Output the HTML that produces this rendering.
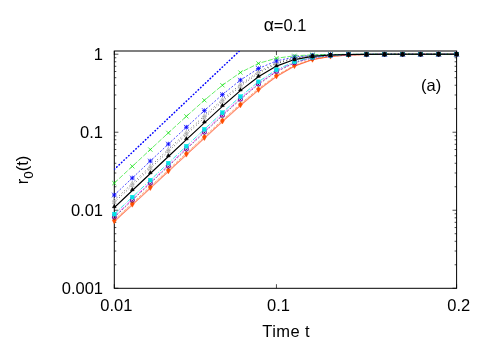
<!DOCTYPE html>
<html><head><meta charset="utf-8"><title>chart</title>
<style>html,body{margin:0;padding:0;background:#fff}svg{display:block}#w{will-change:transform;width:491px;height:343px;overflow:hidden}</style>
</head><body>
<div id="w"><svg width="491" height="343" viewBox="0 0 491 343">
<rect width="491" height="343" fill="#fff"/>
<defs><clipPath id="c"><rect x="114.3" y="51.0" width="342.3" height="237.3"/></clipPath></defs>
<rect x="114.3" y="51.0" width="342.3" height="237.3" fill="none" stroke="#000" stroke-width="1"/>
<path d="M114.3 288.26h4.1M456.6 288.26h-4.1M114.3 264.77h2.0M456.6 264.77h-2.0M114.3 251.03h2.0M456.6 251.03h-2.0M114.3 241.29h2.0M456.6 241.29h-2.0M114.3 233.73h2.0M456.6 233.73h-2.0M114.3 227.55h2.0M456.6 227.55h-2.0M114.3 222.33h2.0M456.6 222.33h-2.0M114.3 217.8h2.0M456.6 217.8h-2.0M114.3 213.81h2.0M456.6 213.81h-2.0M114.3 210.24h4.1M456.6 210.24h-4.1M114.3 186.75h2.0M456.6 186.75h-2.0M114.3 173.01h2.0M456.6 173.01h-2.0M114.3 163.27h2.0M456.6 163.27h-2.0M114.3 155.71h2.0M456.6 155.71h-2.0M114.3 149.53h2.0M456.6 149.53h-2.0M114.3 144.31h2.0M456.6 144.31h-2.0M114.3 139.78h2.0M456.6 139.78h-2.0M114.3 135.79h2.0M456.6 135.79h-2.0M114.3 132.22h4.1M456.6 132.22h-4.1M114.3 108.73h2.0M456.6 108.73h-2.0M114.3 94.99h2.0M456.6 94.99h-2.0M114.3 85.25h2.0M456.6 85.25h-2.0M114.3 77.69h2.0M456.6 77.69h-2.0M114.3 71.51h2.0M456.6 71.51h-2.0M114.3 66.29h2.0M456.6 66.29h-2.0M114.3 61.76h2.0M456.6 61.76h-2.0M114.3 57.77h2.0M456.6 57.77h-2.0M114.3 54.2h4.1M456.6 54.2h-4.1M114.3 288.3v-4.1M114.3 51.0v4.1M276.44 288.3v-4.1M276.44 51.0v4.1M456.6 288.3v-4.1M456.6 51.0v4.1" stroke="#000" stroke-width="0.7" fill="none"/>
<g clip-path="url(#c)" fill="none" stroke-linejoin="round">
<path d="M114.3 169.4 L239.4 51" stroke="#0000ff" stroke-width="1.5" stroke-linecap="round" stroke-dasharray="0.5 2.8"/>
<path d="M114.3 221.94 L132.32 205.24 L150.33 188.55 L168.35 171.86 L186.36 155.18 L204.38 138.56 L222.39 122.05 L240.41 105.86 L258.43 90.46 L276.44 76.81 L294.46 66.32 L312.47 59.78 L330.49 56.5 L348.51 55.1 L366.52 54.54 L384.54 54.33 L402.55 54.25 L420.57 54.22 L438.58 54.21 L456.6 54.2" stroke="#ff2000" stroke-width="0.45"/>
<path d="M114.3 221.18 L132.32 204.49 L150.33 187.79 L168.35 171.1 L186.36 154.43 L204.38 137.81 L222.39 121.31 L240.41 105.14 L258.43 89.79 L276.44 76.26 L294.46 65.93 L312.47 59.57 L330.49 56.41 L348.51 55.06 L366.52 54.53 L384.54 54.32 L402.55 54.25 L420.57 54.22 L438.58 54.21 L456.6 54.2" stroke="#ff4d00" stroke-width="0.55"/>
<path d="M114.3 219.9 L132.32 203.2 L150.33 186.5 L168.35 169.82 L186.36 153.15 L204.38 136.53 L222.39 120.05 L240.41 103.92 L258.43 88.67 L276.44 75.33 L294.46 65.3 L312.47 59.23 L330.49 56.25 L348.51 55 L366.52 54.5 L384.54 54.31 L402.55 54.24 L420.57 54.22 L438.58 54.21 L456.6 54.2" stroke="#ff4d00" stroke-width="0.5" stroke-dasharray="3 1.2"/>
<path d="M114.3 216.19 L132.32 199.19 L150.33 182.2 L168.35 165.21 L186.36 148.25 L204.38 131.36 L222.39 114.67 L240.41 98.47 L258.43 83.49 L276.44 71.02 L294.46 62.4 L312.47 57.68 L330.49 55.56 L348.51 54.71 L366.52 54.39 L384.54 54.27 L402.55 54.23 L420.57 54.21 L438.58 54.2 L456.6 54.2" stroke="#ff00ff" stroke-width="0.6" stroke-dasharray="5 1.2 1 1.2"/>
<path d="M114.3 217.3 L132.32 200.3 L150.33 183.3 L168.35 166.32 L186.36 149.35 L204.38 132.46 L222.39 115.74 L240.41 99.5 L258.43 84.41 L276.44 71.73 L294.46 62.84 L312.47 57.9 L330.49 55.65 L348.51 54.75 L366.52 54.4 L384.54 54.27 L402.55 54.23 L420.57 54.21 L438.58 54.2 L456.6 54.2" stroke="#1a1a5a" stroke-width="0.6" stroke-dasharray="2 1.6"/>
<path d="M114.3 214.08 L132.32 197.08 L150.33 180.08 L168.35 163.1 L186.36 146.15 L204.38 129.27 L222.39 112.62 L240.41 96.52 L258.43 81.77 L276.44 69.72 L294.46 61.62 L312.47 57.31 L330.49 55.41 L348.51 54.65 L366.52 54.37 L384.54 54.26 L402.55 54.22 L420.57 54.21 L438.58 54.2 L456.6 54.2" stroke="#00e5e5" stroke-width="0.8" stroke-dasharray="5 1.5 1 1.5"/>
<path d="M114.3 202.41 L132.32 185.42 L150.33 168.43 L168.35 151.46 L186.36 134.55 L204.38 117.81 L222.39 101.48 L240.41 86.18 L258.43 73.12 L276.44 63.71 L294.46 58.33 L312.47 55.83 L330.49 54.82 L348.51 54.43 L366.52 54.28 L384.54 54.23 L402.55 54.21 L420.57 54.2 L438.58 54.2 L456.6 54.2" stroke="#000" stroke-width="0.75" stroke-dasharray="0.8 2.5"/>
<path d="M114.3 200.3 L132.32 183.31 L150.33 166.32 L168.35 149.36 L186.36 132.46 L204.38 115.75 L222.39 99.5 L240.41 84.41 L258.43 71.73 L276.44 62.84 L294.46 57.9 L312.47 55.65 L330.49 54.75 L348.51 54.4 L366.52 54.27 L384.54 54.23 L402.55 54.21 L420.57 54.2 L438.58 54.2 L456.6 54.2" stroke="#000" stroke-width="0.75" stroke-dasharray="0.8 2.5 0.8 2.9"/>
<path d="M114.3 195 L132.32 178.01 L150.33 161.03 L168.35 144.08 L186.36 127.22 L204.38 110.61 L222.39 94.63 L240.41 80.13 L258.43 68.51 L276.44 60.92 L294.46 56.98 L312.47 55.27 L330.49 54.6 L348.51 54.35 L366.52 54.25 L384.54 54.22 L402.55 54.21 L420.57 54.2 L438.58 54.2 L456.6 54.2" stroke="#0000ff" stroke-width="0.7" stroke-dasharray="2 1.7"/>
<path d="M114.3 183.1 L132.32 166.32 L150.33 149.56 L168.35 132.86 L186.36 116.34 L204.38 100.26 L222.39 85.25 L240.41 72.52 L258.43 63.42 L276.44 58.22 L294.46 55.81 L312.47 54.81 L330.49 54.43 L348.51 54.29 L366.52 54.23 L384.54 54.21 L402.55 54.2 L420.57 54.2 L438.58 54.2 L456.6 54.2" stroke="#00e000" stroke-width="0.6" stroke-dasharray="5 1.6"/>
<path d="M114.3 207.51 L132.32 190.51 L150.33 173.52 L168.35 156.54 L186.36 139.61 L204.38 122.8 L222.39 106.3 L240.41 90.6 L258.43 76.71 L276.44 66.09 L294.46 59.57 L312.47 56.37 L330.49 55.03 L348.51 54.51 L366.52 54.31 L384.54 54.24 L402.55 54.22 L420.57 54.21 L438.58 54.2 L456.6 54.2" stroke="#000" stroke-width="1.15"/>
</g>
<g>
<path d="M114.3 223.87L112.4 220.54L116.2 220.54Z" fill="#ff4d00" stroke="#ff4d00" stroke-width="0.5"/>
<path d="M132.32 207.17L130.42 203.85L134.22 203.85Z" fill="#ff4d00" stroke="#ff4d00" stroke-width="0.5"/>
<path d="M150.33 190.47L148.43 187.15L152.23 187.15Z" fill="#ff4d00" stroke="#ff4d00" stroke-width="0.5"/>
<path d="M168.35 173.79L166.45 170.46L170.25 170.46Z" fill="#ff4d00" stroke="#ff4d00" stroke-width="0.5"/>
<path d="M186.36 157.11L184.46 153.79L188.26 153.79Z" fill="#ff4d00" stroke="#ff4d00" stroke-width="0.5"/>
<path d="M204.38 140.49L202.48 137.17L206.28 137.17Z" fill="#ff4d00" stroke="#ff4d00" stroke-width="0.5"/>
<path d="M222.39 123.99L220.49 120.67L224.29 120.67Z" fill="#ff4d00" stroke="#ff4d00" stroke-width="0.5"/>
<path d="M240.41 107.83L238.51 104.5L242.31 104.5Z" fill="#ff4d00" stroke="#ff4d00" stroke-width="0.5"/>
<path d="M258.43 92.48L256.53 89.15L260.33 89.15Z" fill="#ff4d00" stroke="#ff4d00" stroke-width="0.5"/>
<path d="M276.44 78.94L274.54 75.62L278.34 75.62Z" fill="#ff4d00" stroke="#ff4d00" stroke-width="0.5"/>
<path d="M294.46 68.62L292.56 65.29L296.36 65.29Z" fill="#ff4d00" stroke="#ff4d00" stroke-width="0.5"/>
<path d="M312.47 62.25L310.57 58.93L314.37 58.93Z" fill="#ff4d00" stroke="#ff4d00" stroke-width="0.5"/>
<path d="M330.49 59.09L328.59 55.77L332.39 55.77Z" fill="#ff4d00" stroke="#ff4d00" stroke-width="0.5"/>
<path d="M348.51 57.74L346.61 54.42L350.41 54.42Z" fill="#ff4d00" stroke="#ff4d00" stroke-width="0.5"/>
<path d="M366.52 57.21L364.62 53.89L368.42 53.89Z" fill="#ff4d00" stroke="#ff4d00" stroke-width="0.5"/>
<path d="M384.54 57.01L382.64 53.68L386.44 53.68Z" fill="#ff4d00" stroke="#ff4d00" stroke-width="0.5"/>
<path d="M402.55 56.93L400.65 53.61L404.45 53.61Z" fill="#ff4d00" stroke="#ff4d00" stroke-width="0.5"/>
<path d="M420.57 56.9L418.67 53.58L422.47 53.58Z" fill="#ff4d00" stroke="#ff4d00" stroke-width="0.5"/>
<path d="M438.58 56.89L436.68 53.57L440.48 53.57Z" fill="#ff4d00" stroke="#ff4d00" stroke-width="0.5"/>
<path d="M456.6 56.89L454.7 53.56L458.5 53.56Z" fill="#ff4d00" stroke="#ff4d00" stroke-width="0.5"/>
<path d="M114.3 217.7L116.5 219.9L114.3 222.1L112.1 219.9Z" fill="#ff4d00"/>
<path d="M132.32 201L134.52 203.2L132.32 205.4L130.12 203.2Z" fill="#ff4d00"/>
<path d="M150.33 184.3L152.53 186.5L150.33 188.7L148.13 186.5Z" fill="#ff4d00"/>
<path d="M168.35 167.62L170.55 169.82L168.35 172.02L166.15 169.82Z" fill="#ff4d00"/>
<path d="M186.36 150.95L188.56 153.15L186.36 155.35L184.16 153.15Z" fill="#ff4d00"/>
<path d="M204.38 134.33L206.58 136.53L204.38 138.73L202.18 136.53Z" fill="#ff4d00"/>
<path d="M222.39 117.85L224.59 120.05L222.39 122.25L220.19 120.05Z" fill="#ff4d00"/>
<path d="M240.41 101.72L242.61 103.92L240.41 106.12L238.21 103.92Z" fill="#ff4d00"/>
<path d="M258.43 86.47L260.63 88.67L258.43 90.87L256.23 88.67Z" fill="#ff4d00"/>
<path d="M276.44 73.13L278.64 75.33L276.44 77.53L274.24 75.33Z" fill="#ff4d00"/>
<path d="M294.46 63.1L296.66 65.3L294.46 67.5L292.26 65.3Z" fill="#ff4d00"/>
<path d="M312.47 57.03L314.67 59.23L312.47 61.43L310.27 59.23Z" fill="#ff4d00"/>
<path d="M330.49 54.05L332.69 56.25L330.49 58.45L328.29 56.25Z" fill="#ff4d00"/>
<path d="M348.51 52.8L350.71 55L348.51 57.2L346.31 55Z" fill="#ff4d00"/>
<path d="M366.52 52.3L368.72 54.5L366.52 56.7L364.32 54.5Z" fill="#ff4d00"/>
<path d="M384.54 52.11L386.74 54.31L384.54 56.51L382.34 54.31Z" fill="#ff4d00"/>
<path d="M402.55 52.04L404.75 54.24L402.55 56.44L400.35 54.24Z" fill="#ff4d00"/>
<path d="M420.57 52.02L422.77 54.22L420.57 56.42L418.37 54.22Z" fill="#ff4d00"/>
<path d="M438.58 52.01L440.78 54.21L438.58 56.41L436.38 54.21Z" fill="#ff4d00"/>
<path d="M456.6 52L458.8 54.2L456.6 56.4L454.4 54.2Z" fill="#ff4d00"/>
<rect x="112.4" y="214.29" width="3.8" height="3.8" fill="none" stroke="#ff00ff" stroke-width="0.7"/>
<rect x="130.42" y="197.29" width="3.8" height="3.8" fill="none" stroke="#ff00ff" stroke-width="0.7"/>
<rect x="148.43" y="180.3" width="3.8" height="3.8" fill="none" stroke="#ff00ff" stroke-width="0.7"/>
<rect x="166.45" y="163.31" width="3.8" height="3.8" fill="none" stroke="#ff00ff" stroke-width="0.7"/>
<rect x="184.46" y="146.35" width="3.8" height="3.8" fill="none" stroke="#ff00ff" stroke-width="0.7"/>
<rect x="202.48" y="129.46" width="3.8" height="3.8" fill="none" stroke="#ff00ff" stroke-width="0.7"/>
<rect x="220.49" y="112.77" width="3.8" height="3.8" fill="none" stroke="#ff00ff" stroke-width="0.7"/>
<rect x="238.51" y="96.57" width="3.8" height="3.8" fill="none" stroke="#ff00ff" stroke-width="0.7"/>
<rect x="256.53" y="81.59" width="3.8" height="3.8" fill="none" stroke="#ff00ff" stroke-width="0.7"/>
<rect x="274.54" y="69.12" width="3.8" height="3.8" fill="none" stroke="#ff00ff" stroke-width="0.7"/>
<rect x="292.56" y="60.5" width="3.8" height="3.8" fill="none" stroke="#ff00ff" stroke-width="0.7"/>
<rect x="310.57" y="55.78" width="3.8" height="3.8" fill="none" stroke="#ff00ff" stroke-width="0.7"/>
<rect x="328.59" y="53.66" width="3.8" height="3.8" fill="none" stroke="#ff00ff" stroke-width="0.7"/>
<rect x="346.61" y="52.81" width="3.8" height="3.8" fill="none" stroke="#ff00ff" stroke-width="0.7"/>
<rect x="364.62" y="52.49" width="3.8" height="3.8" fill="none" stroke="#ff00ff" stroke-width="0.7"/>
<rect x="382.64" y="52.37" width="3.8" height="3.8" fill="none" stroke="#ff00ff" stroke-width="0.7"/>
<rect x="400.65" y="52.33" width="3.8" height="3.8" fill="none" stroke="#ff00ff" stroke-width="0.7"/>
<rect x="418.67" y="52.31" width="3.8" height="3.8" fill="none" stroke="#ff00ff" stroke-width="0.7"/>
<rect x="436.68" y="52.3" width="3.8" height="3.8" fill="none" stroke="#ff00ff" stroke-width="0.7"/>
<rect x="454.7" y="52.3" width="3.8" height="3.8" fill="none" stroke="#ff00ff" stroke-width="0.7"/>
<circle cx="114.3" cy="217.3" r="1.9" fill="none" stroke="#1a1a5a" stroke-width="0.7"/><circle cx="114.3" cy="217.3" r="0.6" fill="#1a1a5a"/>
<circle cx="132.32" cy="200.3" r="1.9" fill="none" stroke="#1a1a5a" stroke-width="0.7"/><circle cx="132.32" cy="200.3" r="0.6" fill="#1a1a5a"/>
<circle cx="150.33" cy="183.3" r="1.9" fill="none" stroke="#1a1a5a" stroke-width="0.7"/><circle cx="150.33" cy="183.3" r="0.6" fill="#1a1a5a"/>
<circle cx="168.35" cy="166.32" r="1.9" fill="none" stroke="#1a1a5a" stroke-width="0.7"/><circle cx="168.35" cy="166.32" r="0.6" fill="#1a1a5a"/>
<circle cx="186.36" cy="149.35" r="1.9" fill="none" stroke="#1a1a5a" stroke-width="0.7"/><circle cx="186.36" cy="149.35" r="0.6" fill="#1a1a5a"/>
<circle cx="204.38" cy="132.46" r="1.9" fill="none" stroke="#1a1a5a" stroke-width="0.7"/><circle cx="204.38" cy="132.46" r="0.6" fill="#1a1a5a"/>
<circle cx="222.39" cy="115.74" r="1.9" fill="none" stroke="#1a1a5a" stroke-width="0.7"/><circle cx="222.39" cy="115.74" r="0.6" fill="#1a1a5a"/>
<circle cx="240.41" cy="99.5" r="1.9" fill="none" stroke="#1a1a5a" stroke-width="0.7"/><circle cx="240.41" cy="99.5" r="0.6" fill="#1a1a5a"/>
<circle cx="258.43" cy="84.41" r="1.9" fill="none" stroke="#1a1a5a" stroke-width="0.7"/><circle cx="258.43" cy="84.41" r="0.6" fill="#1a1a5a"/>
<circle cx="276.44" cy="71.73" r="1.9" fill="none" stroke="#1a1a5a" stroke-width="0.7"/><circle cx="276.44" cy="71.73" r="0.6" fill="#1a1a5a"/>
<circle cx="294.46" cy="62.84" r="1.9" fill="none" stroke="#1a1a5a" stroke-width="0.7"/><circle cx="294.46" cy="62.84" r="0.6" fill="#1a1a5a"/>
<circle cx="312.47" cy="57.9" r="1.9" fill="none" stroke="#1a1a5a" stroke-width="0.7"/><circle cx="312.47" cy="57.9" r="0.6" fill="#1a1a5a"/>
<circle cx="330.49" cy="55.65" r="1.9" fill="none" stroke="#1a1a5a" stroke-width="0.7"/><circle cx="330.49" cy="55.65" r="0.6" fill="#1a1a5a"/>
<circle cx="348.51" cy="54.75" r="1.9" fill="none" stroke="#1a1a5a" stroke-width="0.7"/><circle cx="348.51" cy="54.75" r="0.6" fill="#1a1a5a"/>
<circle cx="366.52" cy="54.4" r="1.9" fill="none" stroke="#1a1a5a" stroke-width="0.7"/><circle cx="366.52" cy="54.4" r="0.6" fill="#1a1a5a"/>
<circle cx="384.54" cy="54.27" r="1.9" fill="none" stroke="#1a1a5a" stroke-width="0.7"/><circle cx="384.54" cy="54.27" r="0.6" fill="#1a1a5a"/>
<circle cx="402.55" cy="54.23" r="1.9" fill="none" stroke="#1a1a5a" stroke-width="0.7"/><circle cx="402.55" cy="54.23" r="0.6" fill="#1a1a5a"/>
<circle cx="420.57" cy="54.21" r="1.9" fill="none" stroke="#1a1a5a" stroke-width="0.7"/><circle cx="420.57" cy="54.21" r="0.6" fill="#1a1a5a"/>
<circle cx="438.58" cy="54.2" r="1.9" fill="none" stroke="#1a1a5a" stroke-width="0.7"/><circle cx="438.58" cy="54.2" r="0.6" fill="#1a1a5a"/>
<circle cx="456.6" cy="54.2" r="1.9" fill="none" stroke="#1a1a5a" stroke-width="0.7"/><circle cx="456.6" cy="54.2" r="0.6" fill="#1a1a5a"/>
<rect x="112.4" y="212.18" width="3.8" height="3.8" fill="#00e5e5" stroke="#00e5e5" stroke-width="0.4"/>
<rect x="130.42" y="195.18" width="3.8" height="3.8" fill="#00e5e5" stroke="#00e5e5" stroke-width="0.4"/>
<rect x="148.43" y="178.18" width="3.8" height="3.8" fill="#00e5e5" stroke="#00e5e5" stroke-width="0.4"/>
<rect x="166.45" y="161.2" width="3.8" height="3.8" fill="#00e5e5" stroke="#00e5e5" stroke-width="0.4"/>
<rect x="184.46" y="144.25" width="3.8" height="3.8" fill="#00e5e5" stroke="#00e5e5" stroke-width="0.4"/>
<rect x="202.48" y="127.37" width="3.8" height="3.8" fill="#00e5e5" stroke="#00e5e5" stroke-width="0.4"/>
<rect x="220.49" y="110.72" width="3.8" height="3.8" fill="#00e5e5" stroke="#00e5e5" stroke-width="0.4"/>
<rect x="238.51" y="94.62" width="3.8" height="3.8" fill="#00e5e5" stroke="#00e5e5" stroke-width="0.4"/>
<rect x="256.53" y="79.87" width="3.8" height="3.8" fill="#00e5e5" stroke="#00e5e5" stroke-width="0.4"/>
<rect x="274.54" y="67.82" width="3.8" height="3.8" fill="#00e5e5" stroke="#00e5e5" stroke-width="0.4"/>
<rect x="292.56" y="59.72" width="3.8" height="3.8" fill="#00e5e5" stroke="#00e5e5" stroke-width="0.4"/>
<rect x="310.57" y="55.41" width="3.8" height="3.8" fill="#00e5e5" stroke="#00e5e5" stroke-width="0.4"/>
<rect x="328.59" y="53.51" width="3.8" height="3.8" fill="#00e5e5" stroke="#00e5e5" stroke-width="0.4"/>
<rect x="346.61" y="52.75" width="3.8" height="3.8" fill="#00e5e5" stroke="#00e5e5" stroke-width="0.4"/>
<rect x="364.62" y="52.47" width="3.8" height="3.8" fill="#00e5e5" stroke="#00e5e5" stroke-width="0.4"/>
<rect x="382.64" y="52.36" width="3.8" height="3.8" fill="#00e5e5" stroke="#00e5e5" stroke-width="0.4"/>
<rect x="400.65" y="52.32" width="3.8" height="3.8" fill="#00e5e5" stroke="#00e5e5" stroke-width="0.4"/>
<rect x="418.67" y="52.31" width="3.8" height="3.8" fill="#00e5e5" stroke="#00e5e5" stroke-width="0.4"/>
<rect x="436.68" y="52.3" width="3.8" height="3.8" fill="#00e5e5" stroke="#00e5e5" stroke-width="0.4"/>
<rect x="454.7" y="52.3" width="3.8" height="3.8" fill="#00e5e5" stroke="#00e5e5" stroke-width="0.4"/>
<path d="M114.3 200.23L112.4 203.55L116.2 203.55Z" fill="none" stroke="#aaa" stroke-width="0.7"/><circle cx="114.3" cy="202.41" r="0.5" fill="#aaa"/>
<path d="M132.32 183.23L130.42 186.56L134.22 186.56Z" fill="none" stroke="#aaa" stroke-width="0.7"/><circle cx="132.32" cy="185.42" r="0.5" fill="#aaa"/>
<path d="M150.33 166.24L148.43 169.57L152.23 169.57Z" fill="none" stroke="#aaa" stroke-width="0.7"/><circle cx="150.33" cy="168.43" r="0.5" fill="#aaa"/>
<path d="M168.35 149.28L166.45 152.6L170.25 152.6Z" fill="none" stroke="#aaa" stroke-width="0.7"/><circle cx="168.35" cy="151.46" r="0.5" fill="#aaa"/>
<path d="M186.36 132.37L184.46 135.69L188.26 135.69Z" fill="none" stroke="#aaa" stroke-width="0.7"/><circle cx="186.36" cy="134.55" r="0.5" fill="#aaa"/>
<path d="M204.38 115.62L202.48 118.95L206.28 118.95Z" fill="none" stroke="#aaa" stroke-width="0.7"/><circle cx="204.38" cy="117.81" r="0.5" fill="#aaa"/>
<path d="M222.39 99.29L220.49 102.62L224.29 102.62Z" fill="none" stroke="#aaa" stroke-width="0.7"/><circle cx="222.39" cy="101.48" r="0.5" fill="#aaa"/>
<path d="M240.41 84L238.51 87.32L242.31 87.32Z" fill="none" stroke="#aaa" stroke-width="0.7"/><circle cx="240.41" cy="86.18" r="0.5" fill="#aaa"/>
<path d="M258.43 70.93L256.53 74.26L260.33 74.26Z" fill="none" stroke="#aaa" stroke-width="0.7"/><circle cx="258.43" cy="73.12" r="0.5" fill="#aaa"/>
<path d="M276.44 61.53L274.54 64.85L278.34 64.85Z" fill="none" stroke="#aaa" stroke-width="0.7"/><circle cx="276.44" cy="63.71" r="0.5" fill="#aaa"/>
<path d="M294.46 56.15L292.56 59.47L296.36 59.47Z" fill="none" stroke="#aaa" stroke-width="0.7"/><circle cx="294.46" cy="58.33" r="0.5" fill="#aaa"/>
<path d="M312.47 53.65L310.57 56.97L314.37 56.97Z" fill="none" stroke="#aaa" stroke-width="0.7"/><circle cx="312.47" cy="55.83" r="0.5" fill="#aaa"/>
<path d="M330.49 52.63L328.59 55.96L332.39 55.96Z" fill="none" stroke="#aaa" stroke-width="0.7"/><circle cx="330.49" cy="54.82" r="0.5" fill="#aaa"/>
<path d="M348.51 52.24L346.61 55.57L350.41 55.57Z" fill="none" stroke="#aaa" stroke-width="0.7"/><circle cx="348.51" cy="54.43" r="0.5" fill="#aaa"/>
<path d="M366.52 52.1L364.62 55.42L368.42 55.42Z" fill="none" stroke="#aaa" stroke-width="0.7"/><circle cx="366.52" cy="54.28" r="0.5" fill="#aaa"/>
<path d="M384.54 52.05L382.64 55.37L386.44 55.37Z" fill="none" stroke="#aaa" stroke-width="0.7"/><circle cx="384.54" cy="54.23" r="0.5" fill="#aaa"/>
<path d="M402.55 52.03L400.65 55.35L404.45 55.35Z" fill="none" stroke="#aaa" stroke-width="0.7"/><circle cx="402.55" cy="54.21" r="0.5" fill="#aaa"/>
<path d="M420.57 52.02L418.67 55.34L422.47 55.34Z" fill="none" stroke="#aaa" stroke-width="0.7"/><circle cx="420.57" cy="54.2" r="0.5" fill="#aaa"/>
<path d="M438.58 52.02L436.68 55.34L440.48 55.34Z" fill="none" stroke="#aaa" stroke-width="0.7"/><circle cx="438.58" cy="54.2" r="0.5" fill="#aaa"/>
<path d="M456.6 52.02L454.7 55.34L458.5 55.34Z" fill="none" stroke="#aaa" stroke-width="0.7"/><circle cx="456.6" cy="54.2" r="0.5" fill="#aaa"/>
<path d="M114.3 198.12L112.4 201.44L116.2 201.44Z" fill="none" stroke="#aaa" stroke-width="0.7"/><circle cx="114.3" cy="200.3" r="0.5" fill="#aaa"/>
<path d="M132.32 181.12L130.42 184.45L134.22 184.45Z" fill="none" stroke="#aaa" stroke-width="0.7"/><circle cx="132.32" cy="183.31" r="0.5" fill="#aaa"/>
<path d="M150.33 164.13L148.43 167.46L152.23 167.46Z" fill="none" stroke="#aaa" stroke-width="0.7"/><circle cx="150.33" cy="166.32" r="0.5" fill="#aaa"/>
<path d="M168.35 147.17L166.45 150.5L170.25 150.5Z" fill="none" stroke="#aaa" stroke-width="0.7"/><circle cx="168.35" cy="149.36" r="0.5" fill="#aaa"/>
<path d="M186.36 130.28L184.46 133.6L188.26 133.6Z" fill="none" stroke="#aaa" stroke-width="0.7"/><circle cx="186.36" cy="132.46" r="0.5" fill="#aaa"/>
<path d="M204.38 113.56L202.48 116.89L206.28 116.89Z" fill="none" stroke="#aaa" stroke-width="0.7"/><circle cx="204.38" cy="115.75" r="0.5" fill="#aaa"/>
<path d="M222.39 97.32L220.49 100.64L224.29 100.64Z" fill="none" stroke="#aaa" stroke-width="0.7"/><circle cx="222.39" cy="99.5" r="0.5" fill="#aaa"/>
<path d="M240.41 82.22L238.51 85.55L242.31 85.55Z" fill="none" stroke="#aaa" stroke-width="0.7"/><circle cx="240.41" cy="84.41" r="0.5" fill="#aaa"/>
<path d="M258.43 69.54L256.53 72.87L260.33 72.87Z" fill="none" stroke="#aaa" stroke-width="0.7"/><circle cx="258.43" cy="71.73" r="0.5" fill="#aaa"/>
<path d="M276.44 60.65L274.54 63.98L278.34 63.98Z" fill="none" stroke="#aaa" stroke-width="0.7"/><circle cx="276.44" cy="62.84" r="0.5" fill="#aaa"/>
<path d="M294.46 55.71L292.56 59.04L296.36 59.04Z" fill="none" stroke="#aaa" stroke-width="0.7"/><circle cx="294.46" cy="57.9" r="0.5" fill="#aaa"/>
<path d="M312.47 53.47L310.57 56.79L314.37 56.79Z" fill="none" stroke="#aaa" stroke-width="0.7"/><circle cx="312.47" cy="55.65" r="0.5" fill="#aaa"/>
<path d="M330.49 52.56L328.59 55.89L332.39 55.89Z" fill="none" stroke="#aaa" stroke-width="0.7"/><circle cx="330.49" cy="54.75" r="0.5" fill="#aaa"/>
<path d="M348.51 52.22L346.61 55.54L350.41 55.54Z" fill="none" stroke="#aaa" stroke-width="0.7"/><circle cx="348.51" cy="54.4" r="0.5" fill="#aaa"/>
<path d="M366.52 52.09L364.62 55.41L368.42 55.41Z" fill="none" stroke="#aaa" stroke-width="0.7"/><circle cx="366.52" cy="54.27" r="0.5" fill="#aaa"/>
<path d="M384.54 52.04L382.64 55.37L386.44 55.37Z" fill="none" stroke="#aaa" stroke-width="0.7"/><circle cx="384.54" cy="54.23" r="0.5" fill="#aaa"/>
<path d="M402.55 52.03L400.65 55.35L404.45 55.35Z" fill="none" stroke="#aaa" stroke-width="0.7"/><circle cx="402.55" cy="54.21" r="0.5" fill="#aaa"/>
<path d="M420.57 52.02L418.67 55.34L422.47 55.34Z" fill="none" stroke="#aaa" stroke-width="0.7"/><circle cx="420.57" cy="54.2" r="0.5" fill="#aaa"/>
<path d="M438.58 52.02L436.68 55.34L440.48 55.34Z" fill="none" stroke="#aaa" stroke-width="0.7"/><circle cx="438.58" cy="54.2" r="0.5" fill="#aaa"/>
<path d="M456.6 52.02L454.7 55.34L458.5 55.34Z" fill="none" stroke="#aaa" stroke-width="0.7"/><circle cx="456.6" cy="54.2" r="0.5" fill="#aaa"/>
<path d="M112 192.7L116.6 197.3M112 197.3L116.6 192.7M112 195L116.6 195M114.3 192.7L114.3 197.3" stroke="#0000ff" stroke-width="0.8" fill="none"/>
<path d="M130.02 175.71L134.62 180.31M130.02 180.31L134.62 175.71M130.02 178.01L134.62 178.01M132.32 175.71L132.32 180.31" stroke="#0000ff" stroke-width="0.8" fill="none"/>
<path d="M148.03 158.73L152.63 163.33M148.03 163.33L152.63 158.73M148.03 161.03L152.63 161.03M150.33 158.73L150.33 163.33" stroke="#0000ff" stroke-width="0.8" fill="none"/>
<path d="M166.05 141.78L170.65 146.38M166.05 146.38L170.65 141.78M166.05 144.08L170.65 144.08M168.35 141.78L168.35 146.38" stroke="#0000ff" stroke-width="0.8" fill="none"/>
<path d="M184.06 124.92L188.66 129.52M184.06 129.52L188.66 124.92M184.06 127.22L188.66 127.22M186.36 124.92L186.36 129.52" stroke="#0000ff" stroke-width="0.8" fill="none"/>
<path d="M202.08 108.31L206.68 112.91M202.08 112.91L206.68 108.31M202.08 110.61L206.68 110.61M204.38 108.31L204.38 112.91" stroke="#0000ff" stroke-width="0.8" fill="none"/>
<path d="M220.09 92.33L224.69 96.93M220.09 96.93L224.69 92.33M220.09 94.63L224.69 94.63M222.39 92.33L222.39 96.93" stroke="#0000ff" stroke-width="0.8" fill="none"/>
<path d="M238.11 77.83L242.71 82.43M238.11 82.43L242.71 77.83M238.11 80.13L242.71 80.13M240.41 77.83L240.41 82.43" stroke="#0000ff" stroke-width="0.8" fill="none"/>
<path d="M256.13 66.21L260.73 70.81M256.13 70.81L260.73 66.21M256.13 68.51L260.73 68.51M258.43 66.21L258.43 70.81" stroke="#0000ff" stroke-width="0.8" fill="none"/>
<path d="M274.14 58.62L278.74 63.22M274.14 63.22L278.74 58.62M274.14 60.92L278.74 60.92M276.44 58.62L276.44 63.22" stroke="#0000ff" stroke-width="0.8" fill="none"/>
<path d="M292.16 54.68L296.76 59.28M292.16 59.28L296.76 54.68M292.16 56.98L296.76 56.98M294.46 54.68L294.46 59.28" stroke="#0000ff" stroke-width="0.8" fill="none"/>
<path d="M310.17 52.97L314.77 57.57M310.17 57.57L314.77 52.97M310.17 55.27L314.77 55.27M312.47 52.97L312.47 57.57" stroke="#0000ff" stroke-width="0.8" fill="none"/>
<path d="M328.19 52.3L332.79 56.9M328.19 56.9L332.79 52.3M328.19 54.6L332.79 54.6M330.49 52.3L330.49 56.9" stroke="#0000ff" stroke-width="0.8" fill="none"/>
<path d="M346.21 52.05L350.81 56.65M346.21 56.65L350.81 52.05M346.21 54.35L350.81 54.35M348.51 52.05L348.51 56.65" stroke="#0000ff" stroke-width="0.8" fill="none"/>
<path d="M364.22 51.95L368.82 56.55M364.22 56.55L368.82 51.95M364.22 54.25L368.82 54.25M366.52 51.95L366.52 56.55" stroke="#0000ff" stroke-width="0.8" fill="none"/>
<path d="M382.24 51.92L386.84 56.52M382.24 56.52L386.84 51.92M382.24 54.22L386.84 54.22M384.54 51.92L384.54 56.52" stroke="#0000ff" stroke-width="0.8" fill="none"/>
<path d="M400.25 51.91L404.85 56.51M400.25 56.51L404.85 51.91M400.25 54.21L404.85 54.21M402.55 51.91L402.55 56.51" stroke="#0000ff" stroke-width="0.8" fill="none"/>
<path d="M418.27 51.9L422.87 56.5M418.27 56.5L422.87 51.9M418.27 54.2L422.87 54.2M420.57 51.9L420.57 56.5" stroke="#0000ff" stroke-width="0.8" fill="none"/>
<path d="M436.28 51.9L440.88 56.5M436.28 56.5L440.88 51.9M436.28 54.2L440.88 54.2M438.58 51.9L438.58 56.5" stroke="#0000ff" stroke-width="0.8" fill="none"/>
<path d="M454.3 51.9L458.9 56.5M454.3 56.5L458.9 51.9M454.3 54.2L458.9 54.2M456.6 51.9L456.6 56.5" stroke="#0000ff" stroke-width="0.8" fill="none"/>
<path d="M112.2 181L116.4 185.2M112.2 185.2L116.4 181" stroke="#00e000" stroke-width="0.7" fill="none"/>
<path d="M130.22 164.22L134.42 168.42M130.22 168.42L134.42 164.22" stroke="#00e000" stroke-width="0.7" fill="none"/>
<path d="M148.23 147.46L152.43 151.66M148.23 151.66L152.43 147.46" stroke="#00e000" stroke-width="0.7" fill="none"/>
<path d="M166.25 130.76L170.45 134.96M166.25 134.96L170.45 130.76" stroke="#00e000" stroke-width="0.7" fill="none"/>
<path d="M184.26 114.24L188.46 118.44M184.26 118.44L188.46 114.24" stroke="#00e000" stroke-width="0.7" fill="none"/>
<path d="M202.28 98.16L206.48 102.36M202.28 102.36L206.48 98.16" stroke="#00e000" stroke-width="0.7" fill="none"/>
<path d="M220.29 83.15L224.49 87.35M220.29 87.35L224.49 83.15" stroke="#00e000" stroke-width="0.7" fill="none"/>
<path d="M238.31 70.42L242.51 74.62M238.31 74.62L242.51 70.42" stroke="#00e000" stroke-width="0.7" fill="none"/>
<path d="M256.33 61.32L260.53 65.52M256.33 65.52L260.53 61.32" stroke="#00e000" stroke-width="0.7" fill="none"/>
<path d="M274.34 56.12L278.54 60.32M274.34 60.32L278.54 56.12" stroke="#00e000" stroke-width="0.7" fill="none"/>
<path d="M292.36 53.71L296.56 57.91M292.36 57.91L296.56 53.71" stroke="#00e000" stroke-width="0.7" fill="none"/>
<path d="M310.37 52.71L314.57 56.91M310.37 56.91L314.57 52.71" stroke="#00e000" stroke-width="0.7" fill="none"/>
<path d="M328.39 52.33L332.59 56.53M328.39 56.53L332.59 52.33" stroke="#00e000" stroke-width="0.7" fill="none"/>
<path d="M346.41 52.19L350.61 56.39M346.41 56.39L350.61 52.19" stroke="#00e000" stroke-width="0.7" fill="none"/>
<path d="M364.42 52.13L368.62 56.33M364.42 56.33L368.62 52.13" stroke="#00e000" stroke-width="0.7" fill="none"/>
<path d="M382.44 52.11L386.64 56.31M382.44 56.31L386.64 52.11" stroke="#00e000" stroke-width="0.7" fill="none"/>
<path d="M400.45 52.1L404.65 56.3M400.45 56.3L404.65 52.1" stroke="#00e000" stroke-width="0.7" fill="none"/>
<path d="M418.47 52.1L422.67 56.3M418.47 56.3L422.67 52.1" stroke="#00e000" stroke-width="0.7" fill="none"/>
<path d="M436.48 52.1L440.68 56.3M436.48 56.3L440.68 52.1" stroke="#00e000" stroke-width="0.7" fill="none"/>
<path d="M454.5 52.1L458.7 56.3M454.5 56.3L458.7 52.1" stroke="#00e000" stroke-width="0.7" fill="none"/>
<path d="M114.3 204.41L112.4 207.73L116.2 207.73Z" fill="#000" stroke="#000" stroke-width="0.5"/>
<path d="M132.32 187.41L130.42 190.73L134.22 190.73Z" fill="#000" stroke="#000" stroke-width="0.5"/>
<path d="M150.33 170.42L148.43 173.74L152.23 173.74Z" fill="#000" stroke="#000" stroke-width="0.5"/>
<path d="M168.35 153.44L166.45 156.77L170.25 156.77Z" fill="#000" stroke="#000" stroke-width="0.5"/>
<path d="M186.36 136.52L184.46 139.84L188.26 139.84Z" fill="#000" stroke="#000" stroke-width="0.5"/>
<path d="M204.38 119.72L202.48 123.05L206.28 123.05Z" fill="#000" stroke="#000" stroke-width="0.5"/>
<path d="M222.39 103.26L220.49 106.59L224.29 106.59Z" fill="#000" stroke="#000" stroke-width="0.5"/>
<path d="M240.41 87.66L238.51 90.98L242.31 90.98Z" fill="#000" stroke="#000" stroke-width="0.5"/>
<path d="M258.43 73.97L256.53 77.29L260.33 77.29Z" fill="#000" stroke="#000" stroke-width="0.5"/>
<path d="M276.44 63.66L274.54 66.98L278.34 66.98Z" fill="#000" stroke="#000" stroke-width="0.5"/>
<path d="M294.46 57.44L292.56 60.76L296.36 60.76Z" fill="#000" stroke="#000" stroke-width="0.5"/>
<path d="M312.47 54.43L310.57 57.76L314.37 57.76Z" fill="#000" stroke="#000" stroke-width="0.5"/>
<path d="M330.49 53.18L328.59 56.51L332.39 56.51Z" fill="#000" stroke="#000" stroke-width="0.5"/>
<path d="M348.51 52.7L346.61 56.03L350.41 56.03Z" fill="#000" stroke="#000" stroke-width="0.5"/>
<path d="M366.52 52.52L364.62 55.85L368.42 55.85Z" fill="#000" stroke="#000" stroke-width="0.5"/>
<path d="M384.54 52.45L382.64 55.78L386.44 55.78Z" fill="#000" stroke="#000" stroke-width="0.5"/>
<path d="M402.55 52.43L400.65 55.75L404.45 55.75Z" fill="#000" stroke="#000" stroke-width="0.5"/>
<path d="M420.57 52.42L418.67 55.75L422.47 55.75Z" fill="#000" stroke="#000" stroke-width="0.5"/>
<path d="M438.58 52.42L436.68 55.74L440.48 55.74Z" fill="#000" stroke="#000" stroke-width="0.5"/>
<path d="M456.6 52.42L454.7 55.74L458.5 55.74Z" fill="#000" stroke="#000" stroke-width="0.5"/>
<ellipse cx="294.46" cy="59.32" rx="1.8" ry="1.94" fill="#000"/>
<ellipse cx="312.47" cy="56.32" rx="2.1" ry="2.27" fill="#000"/>
<ellipse cx="330.49" cy="55.07" rx="2.25" ry="2.43" fill="#000"/>
<ellipse cx="348.51" cy="54.59" rx="2.25" ry="2.43" fill="#000"/>
<ellipse cx="366.52" cy="54.41" rx="2.25" ry="2.43" fill="#000"/>
<ellipse cx="384.54" cy="54.34" rx="2.25" ry="2.43" fill="#000"/>
<ellipse cx="402.55" cy="54.31" rx="2.25" ry="2.43" fill="#000"/>
<ellipse cx="420.57" cy="54.31" rx="2.25" ry="2.43" fill="#000"/>
<ellipse cx="438.58" cy="54.3" rx="2.25" ry="2.43" fill="#000"/>
<ellipse cx="456.6" cy="54.3" rx="2.25" ry="2.43" fill="#000"/>
</g>
<g font-family="Liberation Sans, sans-serif" font-size="16.5" fill="#000">
<text x="103" y="60.1" text-anchor="end">1</text>
<text x="103" y="138.12" text-anchor="end">0.1</text>
<text x="103" y="216.14" text-anchor="end">0.01</text>
<text x="103" y="294.16" text-anchor="end">0.001</text>
<text x="116.4" y="310.9" text-anchor="middle">0.01</text>
<text x="278.54" y="310.9" text-anchor="middle">0.1</text>
<text x="458.7" y="310.9" text-anchor="middle">0.2</text>
<text x="286.2" y="336.8" text-anchor="middle" letter-spacing="0.45">Time t</text>
<text x="285" y="31.1" text-anchor="middle"><tspan font-size="17.6">α</tspan>=0.1</text>
<text x="421" y="90.9">(a)</text>
<text transform="translate(28.2,170) rotate(-90)" text-anchor="middle">r<tspan font-size="13.4" dy="5">0</tspan><tspan dy="-5">(t)</tspan></text>
</g>
</svg></div>
</body></html>
